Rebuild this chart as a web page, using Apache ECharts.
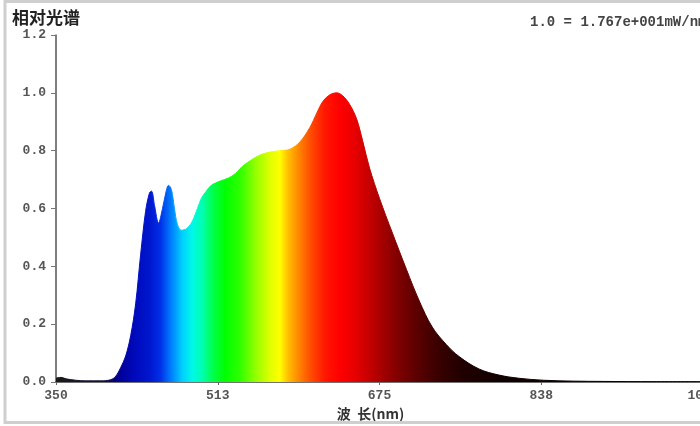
<!DOCTYPE html>
<html>
<head>
<meta charset="utf-8">
<script src="https://cdn.jsdelivr.net/npm/echarts@6/dist/echarts.min.js"></script>
<style>
html,body{margin:0;padding:0;background:#fff;}
#chart{width:700px;height:426px;}
</style>
</head>
<body>
<div id="chart"></div>
<script>
// Wavelength (nm) samples and relative spectral values
var wavelengths = [350, 355, 360, 370, 380, 395, 405, 410, 415, 420, 425, 430, 435, 440, 444, 446, 449, 453, 457, 461, 463, 466, 469, 472, 476, 481, 486, 491, 496, 501, 506, 515, 523, 530, 537, 545, 555, 565, 575, 585, 595, 605, 612, 618, 625, 632, 638, 645, 652, 658, 665, 675, 688, 702, 715, 728, 742, 755, 775, 795, 815, 840, 870, 900, 950, 1000];
var relValues   = [0.013, 0.016, 0.011, 0.006, 0.004, 0.004, 0.008, 0.02, 0.05, 0.09, 0.16, 0.27, 0.44, 0.59, 0.655, 0.66, 0.61, 0.55, 0.6, 0.665, 0.68, 0.665, 0.6, 0.545, 0.525, 0.53, 0.55, 0.59, 0.635, 0.66, 0.68, 0.695, 0.705, 0.72, 0.745, 0.765, 0.785, 0.795, 0.8, 0.805, 0.83, 0.88, 0.93, 0.97, 0.993, 1.0, 0.99, 0.96, 0.91, 0.835, 0.74, 0.635, 0.515, 0.39, 0.28, 0.19, 0.13, 0.088, 0.045, 0.024, 0.013, 0.006, 0.003, 0.002, 0.001, 0.001];
var yTickLabels = ['0.0', '0.2', '0.4', '0.6', '0.8', '1.0', '1.2'];
var xTickValues = [350, 512.5, 675, 837.5, 1000];
var xTickLabels = ['350', '513', '675', '838', '1000'];

// spectral colour stops (wavelength -> colour), styling only
var specStops = [
  [350, '#1a1a1a'], [400, '#10103a'], [412, '#000090'], [427, '#0008b8'], [445, '#0018d0'],
  [455, '#0030e8'], [466, '#0080ff'], [477, '#00d0ff'], [487, '#00f8e8'], [497, '#00ffb0'],
  [507, '#00ff50'], [520, '#00ff00'], [535, '#30ff00'], [550, '#90ff00'], [565, '#e0ff00'],
  [575, '#ffff00'], [583, '#ffc000'], [595, '#ff8000'], [605, '#ff5000'], [620, '#ff1800'],
  [635, '#ff0000'], [650, '#e80000'], [670, '#b80000'], [690, '#880000'], [710, '#600000'],
  [735, '#380000'], [760, '#200000'], [800, '#100000'], [1000, '#000000']
];
var wMin = wavelengths[0], wMax = wavelengths[wavelengths.length - 1];
function makeGrad() {
  return new echarts.graphic.LinearGradient(0, 0, 1, 0, specStops.map(function (s) {
    return { offset: (s[0] - wMin) / (wMax - wMin), color: s[1] };
  }));
}

var seriesData = wavelengths.map(function (w, i) { return [w, relValues[i]]; });

var chart = echarts.init(document.getElementById('chart'));
var monoFont = '"Liberation Mono", "DejaVu Sans Mono", monospace';
chart.setOption({
  animation: false,
  backgroundColor: '#ffffff',
  title: {
    text: '相对光谱',
    left: 7, top: 4,
    textStyle: { fontFamily: '"Noto Sans CJK SC", sans-serif', fontSize: 17, fontWeight: 'bold', color: '#222' }
  },
  graphic: [
    {
      type: 'rect', silent: true, z: 100,
      shape: { x: 5, y: 1.5, width: 720, height: 421 },
      style: { fill: 'none', stroke: '#cfcfcf', lineWidth: 3 }
    },
    {
      type: 'text', left: 530, top: 15, z: 100,
      style: { text: '1.0 = 1.767e+001mW/nm', font: 'bold 14px ' + monoFont, fill: '#444' }
    }
  ],
  grid: { left: 56, right: -3, top: 35, bottom: 44, containLabel: false, outerBoundsMode: 'none' },
  xAxis: {
    type: 'value', min: 350, max: 1000,
    name: '波  长(nm)', nameLocation: 'middle', nameGap: 20,
    nameTextStyle: {
      fontFamily: '"Noto Sans CJK SC", sans-serif', fontSize: 14, fontWeight: 'bold', color: '#333',
      padding: [0, 18, 0, 0]
    },
    axisLine: { show: true, onZero: false, lineStyle: { color: '#444', width: 1.5 } },
    axisTick: { show: true, length: 3, customValues: xTickValues, lineStyle: { color: '#666' } },
    axisLabel: {
      customValues: xTickValues, margin: 7,
      formatter: function (v) { var i = xTickValues.indexOf(v); return i >= 0 ? xTickLabels[i] : ''; },
      fontFamily: monoFont, fontSize: 13, fontWeight: 'bold', color: '#555'
    },
    splitLine: { show: false }
  },
  yAxis: {
    type: 'value', min: 0, max: 1.2, interval: 0.2,
    axisLine: { show: true, lineStyle: { color: '#555', width: 1.5 } },
    axisTick: { show: true, length: 5, lineStyle: { color: '#777' } },
    axisLabel: {
      margin: 10,
      formatter: function (v) { return yTickLabels[Math.round(v / 0.2)]; },
      fontFamily: monoFont, fontSize: 13, fontWeight: 'bold', color: '#555'
    },
    splitLine: { show: false }
  },
  series: [{
    type: 'line',
    data: seriesData,
    smooth: 0.35,
    symbol: 'none',
    lineStyle: { width: 1, color: makeGrad() },
    areaStyle: { color: makeGrad(), opacity: 1 }
  }]
});
</script>
</body>
</html>
